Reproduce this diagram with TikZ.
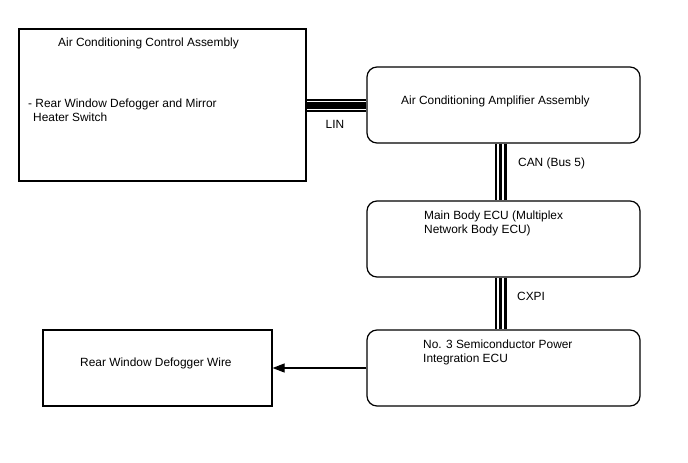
\documentclass[tikz,border=0pt]{standalone}
\usepackage{fontspec}
\setmainfont{Liberation Sans}
\usetikzlibrary{arrows.meta}
\tikzset{
  box/.style={draw=black, line width=1.2pt, inner sep=0pt, fill=white},
  rbox/.style={box, rounded corners=10pt},
  lbl/.style={inner sep=0pt, anchor=base west, font=\fontsize{11.9}{14}\selectfont},
  lblc/.style={lbl, anchor=base},
}
\begin{document}
\begin{tikzpicture}[x=1pt,y=-1pt]
\useasboundingbox[fill=white] (0,0) rectangle (688,463);
% boxes
\node[box, minimum width=287pt, minimum height=152pt] (A) at (162.5,105) {};
\node[rbox, minimum width=273pt, minimum height=76pt] (B) at (503.5,105) {};
\node[rbox, minimum width=273pt, minimum height=76pt] (C) at (503.5,239) {};
\node[rbox, minimum width=273pt, minimum height=76pt] (D) at (503.5,368) {};
\node[box, minimum width=229pt, minimum height=76pt] (E) at (157.5,368) {};
% texts
\node[lbl] (tA) at (58,46) {Air Conditioning Control Assembly};
\node[lbl] (tA1) at (28,107.5) {- Rear Window Defogger and Mirror};
\node[lbl] (tA2) at (33,121.5) {Heater Switch};
\node[lbl] (tB) at (401,104) {Air Conditioning Amplifier Assembly};
\node[lblc] (tLIN) at (335,128) {LIN};
\node[lbl] (tCAN) at (518,166) {CAN (Bus 5)};
\node[lbl] (tC1) at (424,219) {Main Body ECU (Multiplex};
\node[lbl] (tC2) at (424,233) {Network Body ECU)};
\node[lbl] (tCXPI) at (517,300) {CXPI};
\node[lbl] (tD1) at (423,348) {No. 3 Semiconductor Power};
\node[lbl] (tD2) at (423,362) {Integration ECU};
\node[lbl] (tE) at (80,366) {Rear Window Defogger Wire};
% LIN bus
\draw[line width=1.4pt] ([yshift=-6pt]A.east) -- ([yshift=-6pt]B.west);
\draw[line width=6.3pt] ([yshift=-0.5pt]A.east) -- ([yshift=-0.5pt]B.west);
\draw[line width=1.4pt] ([yshift=5pt]A.east) -- ([yshift=5pt]B.west);
% CAN bus
\draw[line width=1.8pt] ([xshift=-7.7pt]B.south) -- ([xshift=-7.7pt]C.north);
\draw[line width=2.4pt] ([xshift=-3pt]B.south) -- ([xshift=-3pt]C.north);
\draw[line width=2.8pt] ([xshift=1.8pt]B.south) -- ([xshift=1.8pt]C.north);
% CXPI bus
\draw[line width=1.8pt] ([xshift=-7.7pt]C.south) -- ([xshift=-7.7pt]D.north);
\draw[line width=2.4pt] ([xshift=-3pt]C.south) -- ([xshift=-3pt]D.north);
\draw[line width=2.8pt] ([xshift=1.8pt]C.south) -- ([xshift=1.8pt]D.north);
% arrow
\draw[line width=1.2pt, -{Triangle[length=12pt,width=9pt]}] (D.west) -- (E.east);
\end{tikzpicture}
\end{document}
